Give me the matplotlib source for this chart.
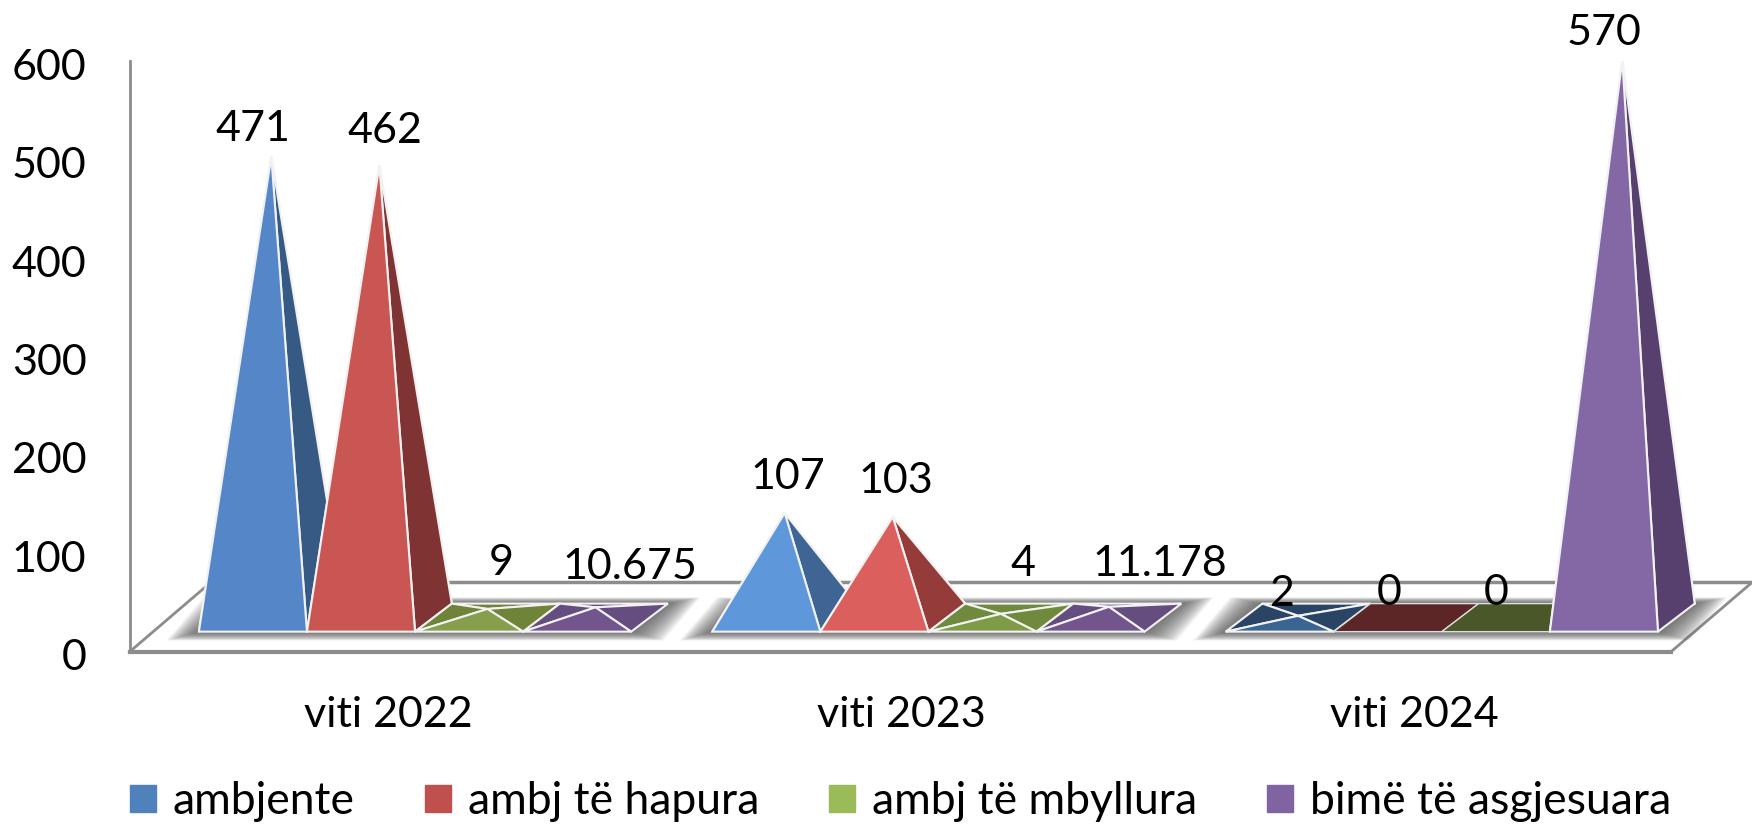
import numpy as np
import matplotlib as mpl
mpl.use('Agg')
import matplotlib.pyplot as plt
from matplotlib.patches import Polygon, Patch
from matplotlib.transforms import ScaledTranslation

mpl.rc('font', family=['Lato', 'DejaVu Sans'], size=31)

years = ['viti 2022', 'viti 2023', 'viti 2024']
series = ['ambjente', 'ambj të hapura', 'ambj të mbyllura', 'bimë të asgjesuara']
values_2022 = [471, 462, 9, 10.675]
values_2023 = [107, 103, 4, 11.178]
values_2024 = [2, 0, 0, 570]
labels_2022 = ['471', '462', '9', '10.675']
labels_2023 = ['107', '103', '4', '11.178']
labels_2024 = ['2', '0', '0', '570']
yticks = [0, 100, 200, 300, 400, 500, 600]

legend_colors = ['#4F81BD', '#C0504D', '#9BBB59', '#8064A2']
front_colors = [['#5587C8', '#C95653', '#859F4C', '#72558D'],
                ['#5F97DB', '#DB5F5C', '#7F9B47', '#72558D'],
                ['#3A6593', '#5C2526', '#4A5729', '#8468A6']]
side_colors = [['#375A85', '#803333', '#6F8438', '#664D80'],
               ['#3F6595', '#953B39', '#6F8A3C', '#664D80'],
               ['#2A4466', '#5C2526', '#4A5729', '#573F6E']]
grey = '#8C8C8C'

# geometry of the fake 3d floor, in axis units
group_step = 4.75
depth_x = 0.34
base_front = 20.5
base_back = 49
base_mid = 34.6
height_scale = 0.995
wall_y = 70.5

# label shifts from the apex, in points
label_dx = [[-13, 4, 10, 25], [2, 2, 16, 37], [-11, -12, -13, -13]]
label_dy = [[20, 25, 33, 29], [26, 26, 36, 31], [16, 18, 18, 19]]

fig = plt.figure(figsize=(17.52, 8.24), dpi=100)
ax = fig.add_axes([116 / 1568, 1 - 583 / 737, 1 - 116 / 1568, (583 - 55) / 737])
ax.set_xlim(-0.641, 14.37)
ax.set_ylim(0, 600)

# floor
ax.plot([0.109, 14.37], [wall_y, wall_y], color=grey, lw=2.5, zorder=1, clip_on=False)
ax.plot([-0.641, 13.62], [0, 0], color=grey, lw=3, zorder=1, clip_on=False)
ax.plot([-0.641, 0.109], [0, wall_y], color=grey, lw=2, zorder=1, clip_on=False)
ax.plot([13.62, 14.37], [0, wall_y], color=grey, lw=2, zorder=1, clip_on=False)

all_values = [values_2022, values_2023, values_2024]
all_labels = [labels_2022, labels_2023, labels_2024]

for g, (vals, labs) in enumerate(zip(all_values, all_labels)):
    start = g * group_step
    # soft shadow under each group
    for m in np.linspace(0.3, 0.02, 26):
        k = m * 30
        pts = [(start - m, base_front - k), (start + 4 + m, base_front - k),
               (start + 4 + depth_x + m, base_back + k * 0.7), (start + depth_x - m, base_back + k * 0.7)]
        ax.add_patch(Polygon(pts, fc='#555555', ec='none', alpha=0.05, zorder=2))
    for i, v in enumerate(vals):
        x = start + i
        fl = (x, base_front)
        fr = (x + 1, base_front)
        br = (x + 1 + depth_x, base_back)
        bl = (x + depth_x, base_back)
        apex = (x + 0.5 + depth_x / 2, base_mid + v * height_scale)
        z = 3 + i * 0.1
        front = front_colors[g][i]
        side = side_colors[g][i]
        if v == 0:
            ax.add_patch(Polygon([fl, fr, br, bl], fc=front, ec='#DDDDDD', lw=1, zorder=z))
        else:
            ax.add_patch(Polygon([bl, br, apex], fc=side, ec='#F2F2F2', lw=1.5, zorder=z))
            ax.add_patch(Polygon([fl, bl, apex], fc=side, ec='#F2F2F2', lw=1.5, zorder=z))
            ax.add_patch(Polygon([fr, br, apex], fc=side, ec='#F2F2F2', lw=1.5, zorder=z))
            ax.add_patch(Polygon([fl, fr, apex], fc=front, ec='#F2F2F2', lw=1.5, zorder=z))
        ax.annotate(labs[i], xy=apex, xytext=(label_dx[g][i], label_dy[g][i]),
                    textcoords='offset points', ha='center', va='center', zorder=10,
                    annotation_clip=False)

for s in ['top', 'right', 'bottom']:
    ax.spines[s].set_visible(False)
ax.spines['left'].set_color(grey)
ax.spines['left'].set_linewidth(2)
ax.set_yticks(yticks)
ax.tick_params(axis='y', length=0, pad=31)
# nudge tick labels down a little
for t in ax.get_yticklabels():
    t.set_transform(t.get_transform() + ScaledTranslation(0, -2 / 72, fig.dpi_scale_trans))
ax.set_xticks([g * group_step + 1.75 for g in range(3)])
ax.set_xticklabels(years)
ax.tick_params(axis='x', length=0, pad=32)
ax.patch.set_alpha(0)

handles = [Patch(color=c, label=s) for c, s in zip(legend_colors, series)]
fig.legend(handles=handles, ncol=4, loc='center', bbox_to_anchor=(0.514, 1 - 717 / 737),
           frameon=False, fontsize=32, handlelength=0.58, handleheight=0.58, handletextpad=0.38,
           columnspacing=1.58, borderpad=0, borderaxespad=0)

plt.savefig('out.png', dpi=100)
